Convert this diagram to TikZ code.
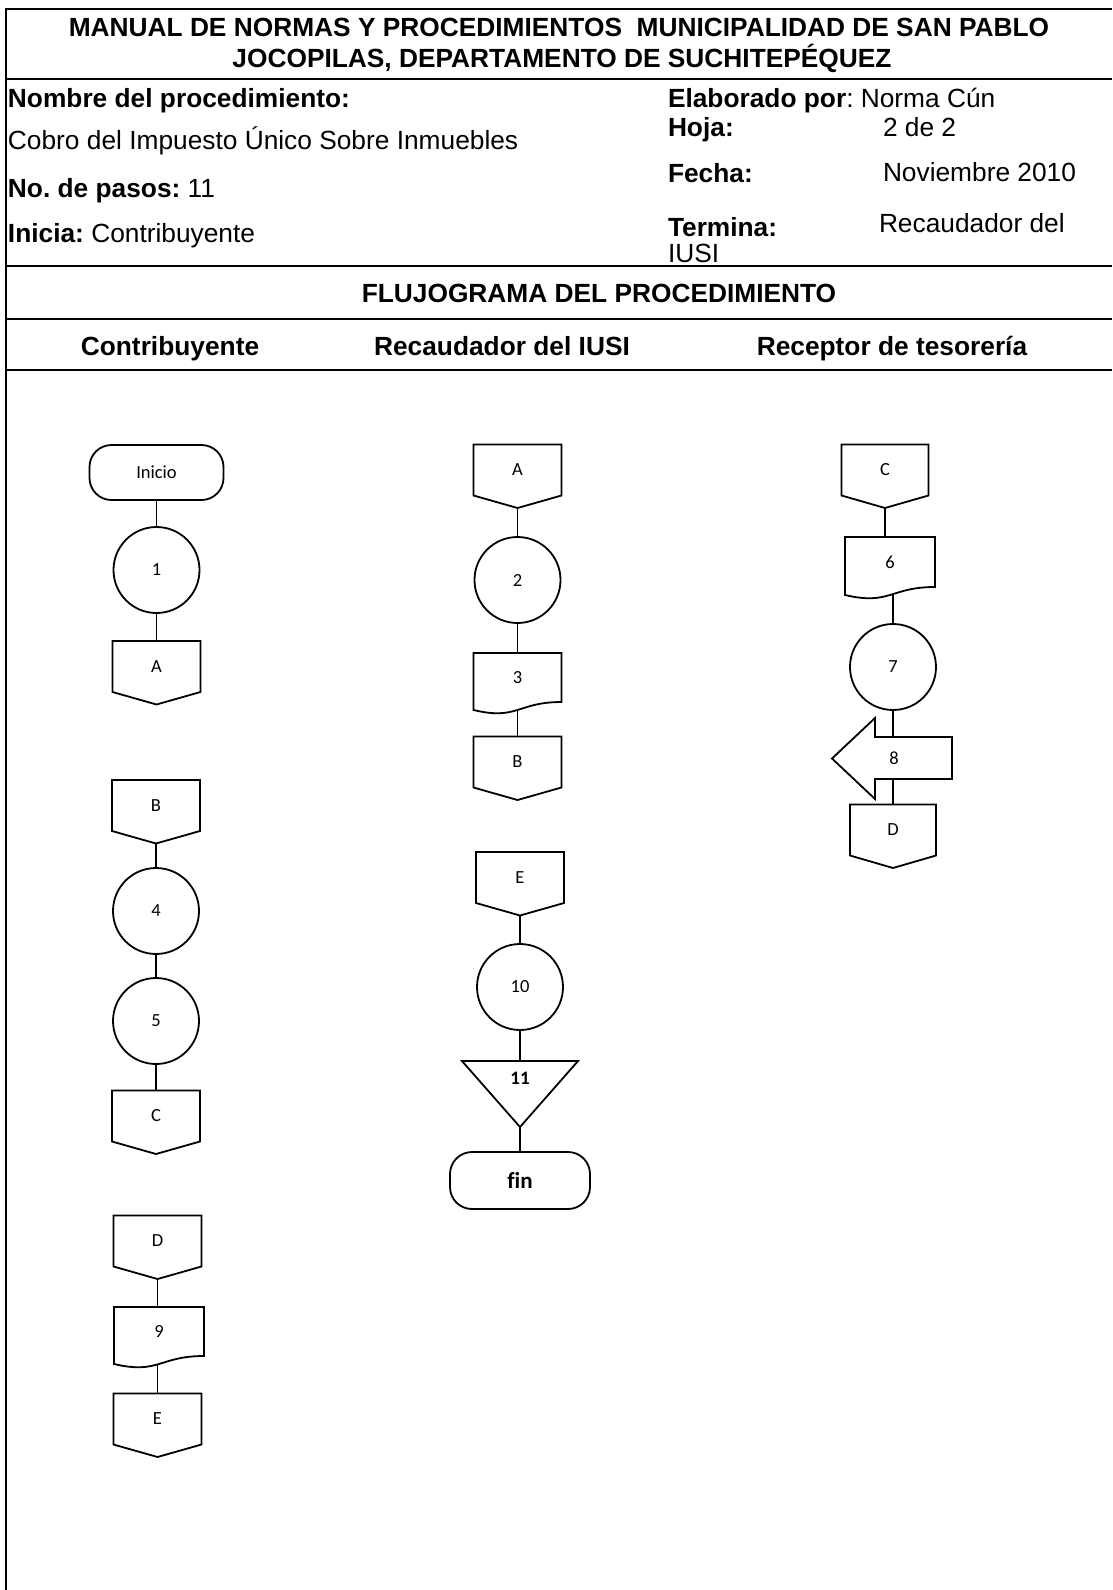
\documentclass[tikz,border=0pt]{standalone}
\usepackage{fontspec}
\setmainfont{Liberation Sans}
\newfontfamily\calfont{Carlito}[Ligatures=NoCommon]
\usetikzlibrary{calc}
\frenchspacing
\begin{document}
\begin{tikzpicture}[x=1pt,y=-1pt,
  every node/.style={inner sep=0pt, outer sep=0pt},
  shp/.style={line width=1.8pt, line join=miter},
  conn/.style={line width=1.8pt},
  tbl/.style={line width=2.2pt},
  lbl/.style={font=\calfont\fontsize{18.5}{20}\selectfont},
  hd/.style={font=\fontsize{26.3}{30}\selectfont},
  hdb/.style={font=\fontsize{26.3}{30}\selectfont\bfseries},
  opc/.style={lbl, minimum width=88pt, minimum height=51pt},
  docn/.style={lbl, minimum width=88pt, minimum height=49pt},
  proc/.style={lbl, shape=circle, draw, shp, minimum size=86pt},
  term/.style={draw, shp, rounded corners=22pt, minimum width=134pt, minimum height=55pt}
]
\useasboundingbox (0,0) rectangle (1112,1590);
% table
\draw[tbl] (1112,9) -- (6,9) -- (6,1590);
\draw[tbl] (6,79) -- (1112,79);
\draw[tbl] (6,266) -- (1112,266);
\draw[tbl] (6,319) -- (1112,319);
\draw[tbl] (6,370) -- (1112,370);
% header texts
\node[hdb, anchor=base] (t1) at (559,36) {MANUAL DE NORMAS Y PROCEDIMIENTOS\ \ MUNICIPALIDAD DE SAN PABLO};
\node[hdb, anchor=base] (t2) at (562,67) {JOCOPILAS, DEPARTAMENTO DE SUCHITEPÉQUEZ};
\node[hdb, anchor=base west] (nm) at (8,107) {Nombre del procedimiento:};
\node[hd, anchor=base west] (cob) at (8,149) {Cobro del Impuesto Único Sobre Inmuebles};
\node[hd, anchor=base west] (pas) at (8,197) {\textbf{No. de pasos:} 11};
\node[hd, anchor=base west] (ini) at (8,242) {\textbf{Inicia:} Contribuyente};
\node[hd, anchor=base west] (ela) at (668,107) {\textbf{Elaborado por}: Norma Cún};
\node[hdb, anchor=base west] (hoj) at (668,136) {Hoja:};
\node[hd, anchor=base west] (hojv) at (883,136) {2 de 2};
\node[hdb, anchor=base west] (fec) at (668,182) {Fecha:};
\node[hd, anchor=base west] (fecv) at (883,181) {Noviembre 2010};
\node[hdb, anchor=base west] (ter) at (668,236) {Termina:};
\node[hd, anchor=base west] (terv) at (879,232) {Recaudador del};
\node[hd, anchor=base west] (ius) at (668,262) {IUSI};
\node[hdb, anchor=base] (flu) at (599,302) {FLUJOGRAMA DEL PROCEDIMIENTO};
\node[hdb, anchor=base] (l1) at (170,355) {Contribuyente};
\node[hdb, anchor=base] (l2) at (502,355) {Recaudador del IUSI};
\node[hdb, anchor=base] (l3) at (892,355) {Receptor de tesorería};
% column 1
\node[term, lbl] (s) at (156.5,472.5) {Inicio};
\node[proc] (p1) at (156.5,570) {1};
\node[opc] (A1) at (156.5,666.5) {A};
\node[opc] (B1) at (156,805.5) {B};
\node[proc] (p4) at (156,911) {4};
\node[proc] (p5) at (156,1021) {5};
\node[opc] (C1) at (156,1116) {C};
\node[opc] (D1) at (157.5,1241) {D};
\node[docn, minimum width=90pt] (d9) at (159,1331.5) {9};
\node[opc] (E1) at (157.5,1419) {E};
% column 2
\node[opc] (A2) at (517.5,470) {A};
\node[proc] (p2) at (517.5,580) {2};
\node[docn] (d3) at (517.5,677.5) {3};
\node[opc] (B2) at (517.5,762) {B};
\node[opc] (E2) at (520,877.5) {E};
\node[proc] (p10) at (520,987) {10};
\node[minimum width=116pt, minimum height=66pt] (t11) at (520,1094) {};
\node[term, minimum width=140pt, minimum height=57pt, font=\calfont\bfseries\fontsize{23}{25}\selectfont] (fin) at (520,1180.5) {fin};
% column 3
\node[opc, minimum width=87pt] (C3) at (885,470) {C};
\node[docn, minimum width=90pt, minimum height=50pt] (d6) at (890,562) {6};
\node[proc] (p7) at (893,667) {7};
\node[minimum width=120pt, minimum height=81pt] (a8) at (892,758.5) {};
\node[opc, minimum width=86pt] (D3) at (893,830) {D};
% off-page connectors
\foreach \n in {A1,B1,C1,D1,E1,A2,B2,E2,C3,D3}{
  \coordinate (\n-tip) at ([yshift=-12.5pt]\n.south);
  \draw[shp] (\n.north west) -- (\n.north east) -- (\n.south east) -- (\n-tip) -- (\n.south west) -- cycle;
}
% documents
\foreach \n in {d3,d6,d9}{
  \coordinate (\n-low) at ([yshift=-8pt]\n.south);
  \draw[shp] (\n.south east) -- (\n.north east) -- (\n.north west) -- ([yshift=-8pt]\n.south west) .. controls ([yshift=-18.6pt]\n.south) and (\n.south) .. (\n.south east) -- cycle;
}
% triangle
\draw[shp] (t11.north west) -- (t11.north east) -- (t11.south) -- cycle;
\node[font=\calfont\bfseries\fontsize{19}{21}\selectfont] (t11l) at ([yshift=-17pt]t11.north) {11};
% connectors
\draw[conn] (s.south) -- (p1.north);
\draw[conn] (p1.south) -- (A1.north);
\draw[conn] (B1-tip) -- (p4.north);
\draw[conn] (p4.south) -- (p5.north);
\draw[conn] (p5.south) -- (C1.north);
\draw[conn] (D1-tip) -- (D1-tip |- d9.north);
\draw[conn] (E1.north) -- ($(E1.north |- d9.south)+(0,8.5)$);
\draw[conn] (A2-tip) -- (p2.north);
\draw[conn] (p2.south) -- (d3.north);
\draw[conn] (d3-low) -- (B2.north);
\draw[conn] (E2-tip) -- (p10.north);
\draw[conn] (p10.south) -- (t11.north);
\draw[conn] (t11.south) -- (fin.north);
\draw[conn] (C3-tip) -- (C3-tip |- d6.north);
\draw[conn] (p7.north) -- ($(p7.north |- d6.south)+(0,8)$);
\draw[conn] (p7.south) -- (D3.north);
% arrow 8
\draw[shp, fill=white] (a8.west) -- ([xshift=43pt]a8.north west) -- ([xshift=43pt,yshift=-19pt]a8.north west) -- ([yshift=-19pt]a8.north east) -- ([yshift=20pt]a8.south east) -- ([xshift=43pt,yshift=20pt]a8.south west) -- ([xshift=43pt]a8.south west) -- cycle;
\node[lbl] (a8l) at ([xshift=2pt]a8.center) {8};
\end{tikzpicture}
\end{document}
